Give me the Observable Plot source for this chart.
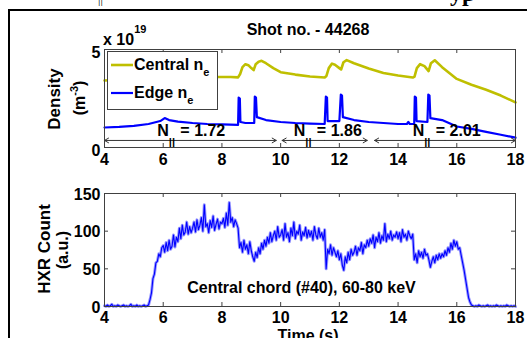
<!DOCTYPE html>
<html><head><meta charset="utf-8">
<script src="https://cdn.jsdelivr.net/npm/d3@7"></script>
<script src="https://cdn.jsdelivr.net/npm/@observablehq/plot@0.6"></script>
<style>
body{margin:0;background:#fff;}
#fig{position:relative;width:527px;height:338px;overflow:hidden;background:#fff;}
#fig svg{position:absolute;left:0;}
</style></head><body><div id="fig"></div>
<script>
// ---------- data ----------
const xTicks = [4, 6, 8, 10, 12, 14, 16, 18];
const densityTicks = [0, 5];
const hxrTicks = [0, 50, 100, 150];

// Central n_e (x 1e19 m^-3)
const centralT = [4.0,4.5,5.0,5.5,6.0,6.5,7.0,7.5,8.0,8.3,8.55,8.62,8.7,8.8,8.9,9.0,9.08,9.15,9.25,9.35,9.5,9.75,10.0,10.5,11.0,11.5,11.56,11.64,11.75,11.85,12.0,12.06,12.14,12.25,12.5,13.0,13.5,14.0,14.5,14.56,14.64,14.75,14.9,15.04,15.12,15.25,15.5,16.0,16.5,17.0,17.5,18.0];
const centralV = [3.42,3.45,3.5,3.52,3.55,3.57,3.6,3.6,3.6,3.6,3.58,3.75,4.1,4.25,4.2,4.05,3.95,4.25,4.38,4.42,4.3,4.05,3.84,3.72,3.62,3.57,3.65,4.05,4.28,4.22,4.05,3.98,4.35,4.46,4.3,4.03,3.8,3.67,3.57,3.62,4.05,4.25,4.15,3.9,4.3,4.45,4.1,3.5,3.2,2.95,2.65,2.3];

// Edge n_e (x 1e19 m^-3)
const edgeT = [4.0,4.5,5.0,5.5,5.9,6.05,6.2,6.5,7.0,7.5,8.0,8.55,8.57,8.61,8.63,8.8,9.1,9.12,9.16,9.19,9.5,10.0,10.5,11.0,11.5,11.54,11.58,11.6,12.0,12.05,12.09,12.12,12.5,13.0,13.5,14.0,14.3,14.35,14.4,14.55,14.57,14.61,14.63,15.0,15.03,15.07,15.1,15.5,16.0,16.5,17.0,17.5,18.0];
const edgeV = [1.02,1.05,1.1,1.2,1.35,1.5,1.4,1.32,1.25,1.2,1.18,1.15,2.55,2.5,1.3,1.25,1.25,2.6,2.55,1.55,1.4,1.3,1.25,1.22,1.2,2.6,2.55,1.35,1.35,2.7,2.65,1.55,1.4,1.3,1.25,1.2,1.2,1.3,1.2,1.2,2.6,2.55,1.35,1.3,2.7,2.65,1.5,1.4,1.07,0.95,0.8,0.65,0.5];

// N_parallel phases
const nLabels = ["1.72", "1.86", "2.01"];
const nLabelT = [5.8, 10.45, 14.5];
const nLabelY = 0.87;
const nSegStart = [4.0, 10.05, 13.2];
const nSegEnd = [9.85, 12.95, 18.0];
const nArrowY = 0.36;

// HXR count, sampled every 0.05 s from 4 s
const hxrStart = 4.0, hxrStep = 0.05;
const hxrCount = [
 1,0,2,0,1,3,0,1,0,2,1,0,1,2,0,1,0,1,3,0,1,0,2,0,1,0,1,2,0,1,
 2,9,18,37,43,58,60,70,66,78,
 81,72,85,74,88,76,80,95,79,92,86,104,90,108,95,99,112,96,106,98,
 104,112,99,115,102,108,118,100,135,106,110,98,114,105,120,101,109,116,103,112,
 110,117,105,124,108,138,112,118,106,115,
 110,104,
 78,85,72,88,76,82,70,86,
 74,66,60,72,65,78,70,84,76,88,
 80,92,84,98,86,94,100,88,106,92,
 95,102,88,110,92,98,86,104,94,112,90,100,96,108,88,99,94,105,91,101,
 93,100,88,106,95,90,104,92,98,88,102,
 50,76,70,82,68,78,72,66,74,
 62,70,55,48,66,58,72,62,76,68,
 72,80,68,78,74,85,70,82,78,88,
 80,90,84,95,78,92,86,98,84,94,88,110,86,96,90,100,88,95,92,99,
 90,98,86,102,92,96,88,100,94,90,96,
 62,70,58,74,66,72,64,76,68,
 70,62,52,60,66,58,68,62,70,64,
 70,66,74,68,78,72,84,76,88,80,
 86,76,78,68,58,48,36,24,12,6,
 2,1,0,1,0,2,1,0,1,0,1,2,0,1,0,1,0,2,1,0,1,0,1,0,2,1,0,1,0,1,0
];
const hxrNote = "Central chord (#40), 60-80 keV";
const hxrNoteT = 10.71, hxrNoteY = 25;

// ---------- build ----------
const central = centralT.map((t, i) => ({t, v: centralV[i]}));
const edge = edgeT.map((t, i) => ({t, v: edgeV[i]}));
const hxr = hxrCount.map((v, i) => ({t: hxrStart + i * hxrStep, v}));
const nPhases = nLabels.map((s, i) => ({s, t: nLabelT[i], a: nSegStart[i], b: nSegEnd[i], m: (nSegStart[i] + nSegEnd[i]) / 2}));

const FONT = "'Liberation Sans', Arial, Helvetica, sans-serif";
const frameC = "#404040";
const style = {fontFamily: FONT, fontSize: "16px", fontWeight: "bold", background: "transparent", color: "#000", overflow: "visible"};

function innerTicks(xt, yt, plotW, plotH) {
  return [
    Plot.ruleX(xt, {insetTop: plotH - 4, stroke: frameC}),
    Plot.ruleX(xt, {insetBottom: plotH - 4, stroke: frameC}),
    Plot.ruleY(yt, {insetLeft: plotW - 4, stroke: frameC}),
    Plot.ruleY(yt, {insetRight: plotW - 4, stroke: frameC})
  ];
}

const W = 527, ML = 104, MR = 12;
const topH = 170, topMT = 49, topMB = 23;
const topPlot = Plot.plot({
  width: W, height: topH, marginLeft: ML, marginRight: MR, marginTop: topMT, marginBottom: topMB,
  x: {domain: [4, 18]}, y: {domain: [0, 5]}, style,
  marks: [
    Plot.line(central, {x: "t", y: "v", stroke: "#bfbf00", strokeWidth: 2.6}),
    Plot.line(edge, {x: "t", y: "v", stroke: "#0000ff", strokeWidth: 2.2}),
    Plot.arrow(nPhases, {x1: "m", x2: "a", y1: () => nArrowY, y2: () => nArrowY, bend: 0, headLength: 7, stroke: "#333", strokeWidth: 1}),
    Plot.arrow(nPhases, {x1: "m", x2: "b", y1: () => nArrowY, y2: () => nArrowY, bend: 0, headLength: 7, stroke: "#333", strokeWidth: 1}),
    Plot.text(nPhases, {x: "t", y: () => nLabelY, text: () => "N", textAnchor: "start", fontSize: 16}),
    Plot.text(nPhases, {x: "t", y: () => nLabelY, text: () => "||", textAnchor: "start", fontSize: 11, dx: 11.5, dy: 12}),
    Plot.text(nPhases, {x: "t", y: () => nLabelY, text: d => "= " + d.s, textAnchor: "start", fontSize: 16, dx: 23}),
    Plot.frame({stroke: frameC}),
    ...innerTicks(xTicks, densityTicks, W - ML - MR, topH - topMT - topMB),
    Plot.axisX(xTicks, {tickSize: 0, tickPadding: 6, label: null}),
    Plot.axisY(densityTicks, {tickSize: 0, tickPadding: 4, dy: 3, label: null})
  ]
});
topPlot.style.top = "0px";

const botH = 168, botMT = 23, botMB = 32;
const botPlot = Plot.plot({
  width: W, height: botH, marginLeft: ML, marginRight: MR, marginTop: botMT, marginBottom: botMB,
  x: {domain: [4, 18]}, y: {domain: [0, 150]}, style,
  marks: [
    Plot.line(hxr, {x: "t", y: "v", stroke: "#9a9aff", strokeWidth: 3}),
    Plot.line(hxr, {x: "t", y: "v", stroke: "#0000ff", strokeWidth: 1.1}),
    Plot.text([hxrNote], {x: () => hxrNoteT, y: () => hxrNoteY, text: d => d, fontSize: 16}),
    Plot.frame({stroke: frameC}),
    ...innerTicks(xTicks, hxrTicks, W - ML - MR, botH - botMT - botMB),
    Plot.axisX(xTicks, {tickSize: 0, tickPadding: 5, label: null}),
    Plot.axisY(hxrTicks, {tickSize: 0, tickPadding: 4, dy: 1, label: null})
  ]
});
botPlot.style.top = "170px";

const fig = document.getElementById("fig");
fig.appendChild(topPlot);
fig.appendChild(botPlot);

// ---------- overlay: titles, labels, legend, page frame ----------
const ns = "http://www.w3.org/2000/svg";
const ov = document.createElementNS(ns, "svg");
ov.setAttribute("width", W); ov.setAttribute("height", 338);
ov.style.top = "0px";
ov.innerHTML = `
<g font-family="${FONT}" font-weight="bold" fill="#000">
  <text x="98" y="3" font-family="'Liberation Serif',serif" font-weight="normal" font-size="12">||</text>
  <text x="450" y="1" font-family="'Liberation Serif',serif" font-size="24">yp</text>
  <line x1="8" y1="10" x2="527" y2="10" stroke="#000" stroke-width="2"/>
  <line x1="9" y1="9" x2="9" y2="338" stroke="#000" stroke-width="2"/>
  <text x="308" y="35" text-anchor="middle" font-size="16">Shot no. - 44268</text>
  <text x="103" y="45" font-size="16">x 10<tspan font-size="11" dy="-12">19</tspan></text>
  <text transform="translate(60,99) rotate(-90)" text-anchor="middle" font-size="17">Density</text>
  <text transform="translate(85,98) rotate(-90)" text-anchor="middle" font-size="16">(m<tspan font-size="11" dy="-7">-3</tspan><tspan dy="7">)</tspan></text>
  <text transform="translate(49.5,249) rotate(-90)" text-anchor="middle" font-size="17">HXR Count</text>
  <text transform="translate(68,250) rotate(-90)" text-anchor="middle" font-size="16">(a.u.)</text>
  <text x="308" y="341" text-anchor="middle" font-size="16">Time (s)</text>
  <rect x="107.5" y="51.5" width="110" height="58" fill="#fff" stroke="${frameC}" stroke-width="1"/>
  <line x1="111" y1="65" x2="133" y2="65" stroke="#bfbf00" stroke-width="2.6"/>
  <line x1="111" y1="93" x2="133" y2="93" stroke="#0000ff" stroke-width="2.2"/>
  <text x="134" y="70" font-size="16">Central n<tspan font-size="11" dy="6">e</tspan></text>
  <text x="134" y="98" font-size="16">Edge n<tspan font-size="11" dy="6">e</tspan></text>
</g>`;
fig.appendChild(ov);
</script></body></html>
